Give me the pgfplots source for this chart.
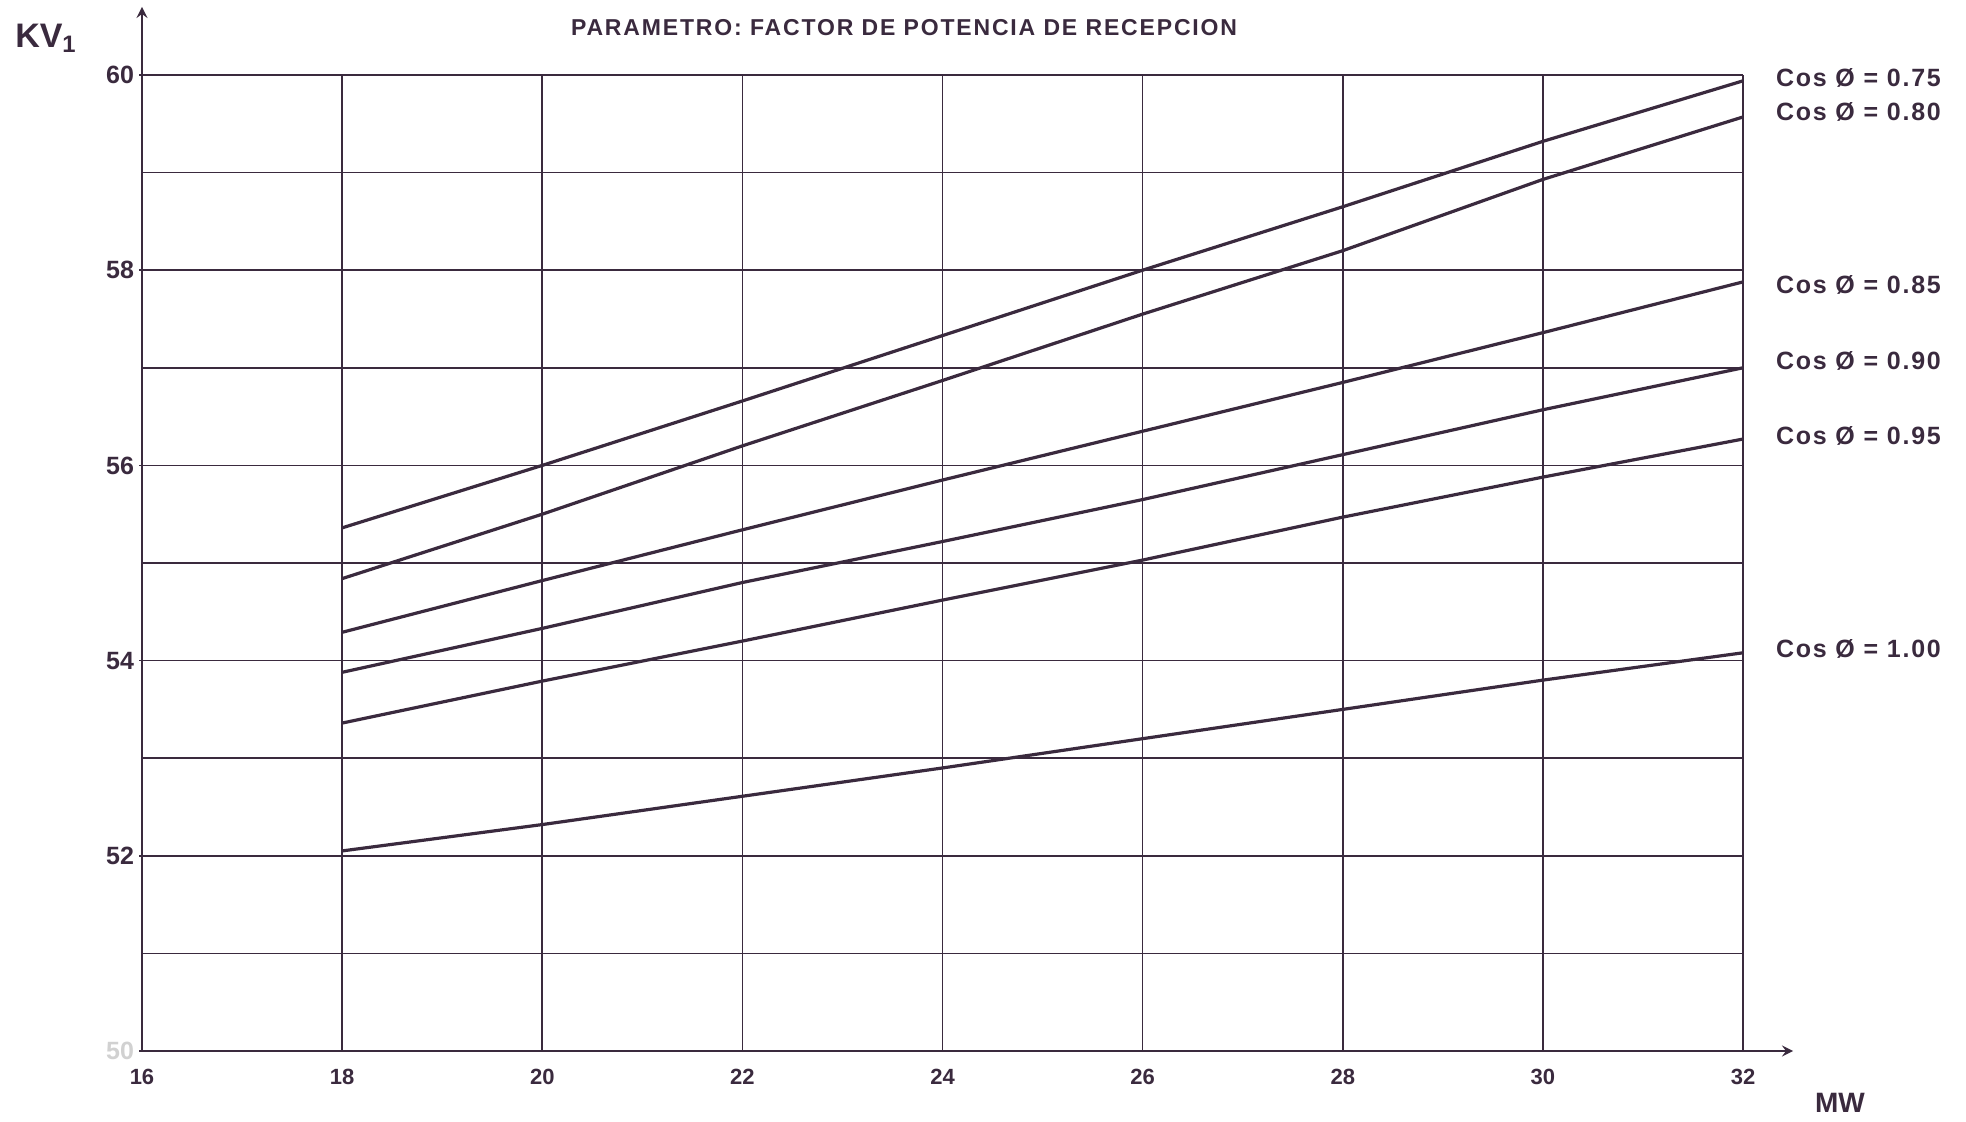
\documentclass[border=0pt]{standalone}
\usepackage{pgfplots}
\pgfplotsset{compat=1.18}
\usepackage{fontspec}
\setmainfont{Liberation Sans}
\definecolor{ink}{RGB}{58,42,62}
\begin{document}
\begin{tikzpicture}[font=\bfseries]
\path (-71pt,-35pt) rectangle (912pt,525.5pt);
\begin{axis}[
 at={(0pt,0pt)}, anchor=south west,
 scale only axis, width=800.5pt, height=488pt,
 xmin=16, xmax=32, ymin=50, ymax=60,
 axis lines=left,
 axis line style={ink, line width=1.4pt},
 x axis line style={-stealth, shorten >=-25pt},
 y axis line style={-stealth, shorten >=-34pt},
 xtick={16,18,...,32}, ytick={50,52,...,60},
 yticklabels={\textcolor{black!18}{50},52,54,56,58,60},
 minor ytick={51,53,...,59},
 grid=both,
 major grid style={ink, line width=0.8pt},
 minor grid style={ink, line width=0.8pt},
 major tick length=3pt, minor tick length=0pt,
 tick style={ink, line width=0.8pt},
 xtick style={draw=none},
 tick label style={font=\bfseries\fontsize{11}{11}\selectfont, text=ink},
 yticklabel style={font=\bfseries\fontsize{12.5}{12.5}\selectfont, xshift=1pt},
 xticklabel style={yshift=-4pt},
 /pgf/number format/assume math mode=true,
 clip=false,
]
\addplot[ink, line width=1.6pt] coordinates {(18,55.36) (20,56.0) (22,56.66) (24,57.33) (26,58.0) (28,58.65) (30,59.32) (32,59.94)};
\addplot[ink, line width=1.6pt] coordinates {(18,54.84) (20,55.5) (22,56.2) (24,56.87) (26,57.55) (28,58.2) (30,58.93) (32,59.57)};
\addplot[ink, line width=1.6pt] coordinates {(18,54.29) (20,54.82) (22,55.34) (24,55.85) (26,56.35) (28,56.85) (30,57.36) (32,57.88)};
\addplot[ink, line width=1.6pt] coordinates {(18,53.88) (20,54.33) (22,54.8) (24,55.22) (26,55.65) (28,56.11) (30,56.57) (32,57.0)};
\addplot[ink, line width=1.6pt] coordinates {(18,53.36) (20,53.79) (22,54.2) (24,54.62) (26,55.03) (28,55.47) (30,55.88) (32,56.27)};
\addplot[ink, line width=1.6pt] coordinates {(18,52.05) (20,52.32) (22,52.61) (24,52.9) (26,53.2) (28,53.5) (30,53.8) (32,54.08)};
\begin{scope}[every node/.style={anchor=west, text=ink, font=\bfseries\fontsize{12.5}{13}\selectfont\addfontfeature{LetterSpace=7}, xshift=13pt}]
\node at (axis cs:32,59.97) {Cos Ø = 0.75};
\node at (axis cs:32,59.62) {Cos Ø = 0.80};
\node at (axis cs:32,57.85) {Cos Ø = 0.85};
\node at (axis cs:32,57.07) {Cos Ø = 0.90};
\node at (axis cs:32,56.30) {Cos Ø = 0.95};
\node at (axis cs:32,54.12) {Cos Ø = 1.00};
\end{scope}
\node[text=ink, font=\bfseries\fontsize{11.5}{12}\selectfont\addfontfeature{LetterSpace=8}] at (rel axis cs:0.476,1) [yshift=23.5pt] {PARAMETRO: FACTOR DE POTENCIA DE RECEPCION};
\end{axis}
\node[text=ink, font=\bfseries\fontsize{17}{18}\selectfont] at (-48pt,506.5pt) {KV\textsubscript{1}};
\node[text=ink, font=\bfseries\fontsize{14}{16}\selectfont] at (849pt,-26pt) {MW};
\end{tikzpicture}
\end{document}
